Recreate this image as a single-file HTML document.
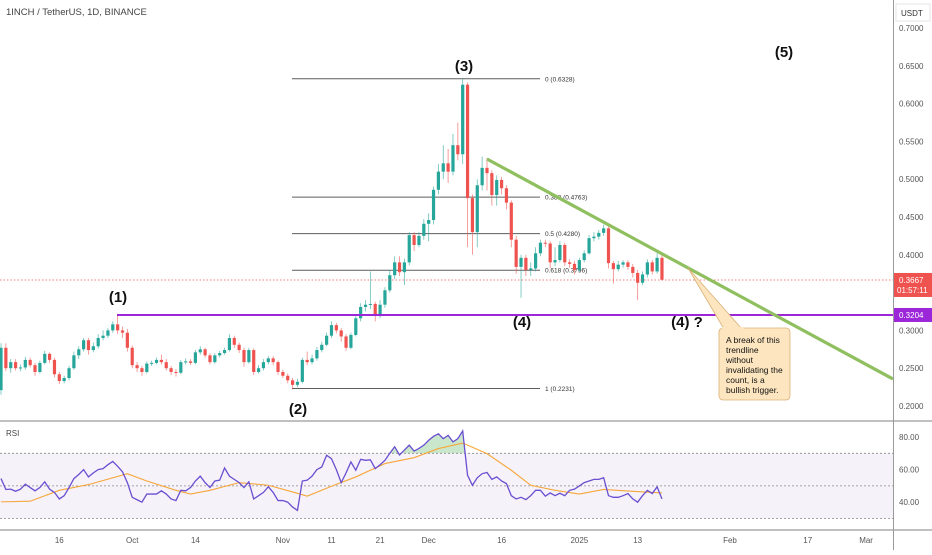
<!DOCTYPE html>
<html><head><meta charset="utf-8">
<style>
html,body{margin:0;padding:0;background:#fff;}
body{width:932px;height:550px;overflow:hidden;font-family:"Liberation Sans",sans-serif;}
svg text{font-family:"Liberation Sans",sans-serif;}
</style></head>
<body>
<svg id="chart" width="932" height="550" viewBox="0 0 932 550" xmlns="http://www.w3.org/2000/svg">
  <rect x="0" y="0" width="932" height="550" fill="#ffffff"/>
  <text x="6" y="15" font-size="9.5" fill="#444">1INCH / TetherUS, 1D, BINANCE</text>
  <g id="fib"></g>
  <g id="candles"></g>
  <g id="overlay"></g>
  <g id="rsi"></g>
  <g id="axes"></g>
</svg>
<script>
const closes=[.277,.250,.258,.250,.251,.261,.254,.245,.257,.269,.261,.242,.233,.237,.250,.267,.275,.287,.274,.279,.290,.293,.300,.308,.300,.297,.277,.254,.250,.245,.256,.257,.261,.258,.250,.245,.244,.258,.259,.257,.271,.275,.267,.258,.267,.270,.274,.290,.281,.274,.258,.274,.245,.250,.258,.263,.258,.245,.240,.234,.228,.232,.261,.258,.263,.274,.281,.293,.307,.300,.292,.277,.294,.316,.331,.334,.335,.319,.334,.353,.373,.390,.377,.390,.426,.413,.425,.441,.446,.486,.510,.521,.510,.545,.533,.625,.475,.430,.492,.515,.508,.479,.499,.488,.469,.420,.384,.396,.380,.382,.402,.416,.415,.390,.393,.413,.390,.388,.380,.393,.402,.422,.424,.429,.435,.389,.381,.387,.390,.384,.376,.363,.374,.390,.378,.396,.367];
const firstOpen=.221;
const highs=[.283,.283,.262,.262,.255,.265,.264,.257,.260,.273,.271,.264,.245,.240,.253,.272,.279,.290,.290,.284,.295,.300,.303,.312,.322,.305,.302,.280,.258,.253,.259,.260,.264,.268,.262,.253,.249,.261,.263,.262,.274,.279,.277,.270,.270,.273,.277,.295,.293,.284,.277,.277,.276,.254,.262,.266,.266,.260,.248,.243,.237,.236,.264,.272,.268,.278,.285,.297,.312,.310,.303,.295,.297,.320,.336,.340,.378,.338,.340,.357,.380,.398,.398,.395,.430,.430,.430,.447,.455,.490,.520,.545,.540,.560,.575,.6328,.628,.480,.500,.530,.528,.512,.505,.503,.492,.472,.425,.400,.400,.390,.410,.420,.420,.418,.410,.418,.416,.394,.392,.396,.406,.426,.430,.433,.440,.438,.392,.392,.393,.393,.388,.380,.378,.394,.393,.402,.400];
const lows=[.215,.246,.244,.247,.246,.248,.251,.240,.243,.255,.257,.238,.229,.230,.234,.248,.262,.272,.268,.271,.276,.287,.290,.297,.295,.290,.272,.250,.245,.240,.243,.253,.255,.255,.247,.241,.239,.242,.255,.254,.255,.268,.264,.255,.256,.264,.268,.272,.277,.270,.252,.256,.241,.243,.247,.255,.254,.241,.237,.230,.222,.225,.230,.254,.255,.260,.271,.279,.290,.296,.285,.273,.275,.292,.312,.325,.328,.312,.316,.330,.350,.368,.372,.360,.386,.405,.410,.420,.418,.440,.480,.500,.495,.505,.525,.520,.410,.400,.410,.485,.485,.465,.465,.480,.460,.410,.375,.343,.372,.372,.378,.398,.410,.382,.385,.390,.385,.383,.374,.377,.390,.400,.418,.420,.425,.382,.362,.378,.383,.380,.370,.340,.360,.370,.374,.375,.366];
const rsiValues=[54.5,47.8,48,46.7,48,51,49,47,49,52.5,48,46,42,44,49,54.5,57,60,55.5,58,60,60.6,63,65,62,58.6,52,43,41.5,40,45,45,45,47,45,42,41,47.3,47,49,53,56,52,49,53,53.5,61,56,54,52,49,52.5,42,44,46,49.5,46,41,41,40,37,35,53,53.5,56,60,61.6,68.8,66.7,60,52,58,64.7,59.6,66.3,65.7,66,60.6,63,65.7,70,74,69,72,75,71.4,73,75,78,80.4,82,79,81,77,79,83.7,56.5,50.4,55,57.5,58.2,54,55.5,53,51.4,44,42,43,41.6,44,47.3,47.3,43.7,45.7,44,45.5,44,47.3,48,50,52,53,54,54,55,44,43,43,44,45.3,42,40,44,47.3,45.3,49.4,42];
const maDays=[0,6,12,18,26,30,36,39,43,49,55,60,63,68,73,79,85,90,95,100,105,109,114,119,124,130,136];
const maValues=[40.2,40.6,47.3,50.8,57.5,53,47.3,45,47.3,52,50.4,46.3,43.7,49.8,55.5,63.7,67.3,72.9,76.3,69.8,59.6,50.4,47.3,45,47.8,46.7,45.7];
const priceTicks=[0.7,0.65,0.6,0.55,0.5,0.45,0.4,0.3,0.25,0.2];
const rsiTicks=[80,60,40];
const fibLevels=["0","0.382","0.5","0.618","1"];
const fibPrices=[0.6328,0.4763,0.4280,0.3796,0.2231];
const timeLabels=["16","Oct","14","Nov","11","21","Dec","16","2025","13","Feb","17","Mar"];
const timeDays=[12,27,40,58,68,78,88,103,119,131,150,166,178];
const lastPrice=0.3667, levelPrice=0.3204;

const NS="http://www.w3.org/2000/svg";
function X(i){return 1+i*4.86;}
function Y(p){return 28+(0.7-p)*756;}
function RY(v){return 437+(80-v)*1.63;}
function mk(tag,attrs,parent,txt){const e=document.createElementNS(NS,tag);for(const k in attrs)e.setAttribute(k,attrs[k]);if(txt!==undefined)e.textContent=txt;parent.appendChild(e);return e;}
const gC=document.getElementById('candles'),gO=document.getElementById('overlay'),gR=document.getElementById('rsi'),gA=document.getElementById('axes'),gF=document.getElementById('fib');

// fib
for(let k=0;k<fibPrices.length;k++){
  const y=Y(fibPrices[k]);
  const l=mk('line',{x1:292,x2:540,y1:y,y2:y,stroke:'#5d5d5d','stroke-width':1},gF);
  
  
  const t=mk('text',{x:545,y:y+2.5,'font-size':6.5,fill:'#333'},gF,fibLevels[k]+' ('+fibPrices[k].toFixed(4)+')');
  
  
}
// current price dotted line
const cp=mk('line',{x1:0,x2:893,y1:Y(lastPrice),y2:Y(lastPrice),stroke:'#ef5350','stroke-width':0.8,'stroke-dasharray':'1.5 2'},gO);



// candles
for(let i=0;i<closes.length;i++){
  const o=i===0?firstOpen:closes[i-1],c=closes[i];
  const col=c>=o?'#26a69a':'#ef5350';
  const x=X(i);
  const w=mk('line',{x1:x,x2:x,y1:Y(highs[i]),y2:Y(lows[i]),stroke:col,'stroke-width':0.8,opacity:0.7},gC);
  
  
  const top=Y(Math.max(o,c)),bot=Y(Math.min(o,c));
  const b=mk('rect',{x:x-1.6,y:top,width:3.2,height:Math.max(1,bot-top),fill:col},gC);
  
  
}
// purple level
const pl=mk('line',{x1:117,x2:893,y1:Y(levelPrice),y2:Y(levelPrice),stroke:'#9c27d8','stroke-width':2},gO);


// trendline
const tl=mk('line',{x1:487,y1:159,x2:893,y2:379,stroke:'#8fbf5f','stroke-width':3.2},gO);


// callout
const cpath=mk('path',{d:'M724 329 L688 268 L742 329 Z',fill:'#fde6bf',stroke:'#d9b177','stroke-width':0.8},gO);


const cbox=mk('rect',{x:719,y:328,width:71,height:72,rx:4,fill:'#fde6bf',stroke:'#d9b177','stroke-width':0.8},gO);


mk('rect',{x:722,y:327,width:22,height:3,fill:'#fde6bf'},gO);
const lines=["A break of this","trendline","without","invalidating the","count, is a","bullish trigger."];
lines.forEach((s,k)=>{const t=mk('text',{x:726,y:343+k*10,'font-size':8.5,fill:'#111'},gO,s);

});
// wave labels
const wl=[["(1)",118,302],["(2)",298,414],["(3)",464,71],["(4)",522,327],["(4) ?",687,327],["(5)",784,57]];
wl.forEach(a=>{const t=mk('text',{x:a[1],y:a[2],'font-size':15,'font-weight':'bold','text-anchor':'middle',fill:'#111'},gO,a[0]);

});

// RSI pane
const band=mk('rect',{x:0,y:RY(70),width:893,height:RY(30)-RY(70),fill:'#7e57c2','fill-opacity':0.08},gR);


[70,50,30].forEach(v=>{const l=mk('line',{x1:0,x2:893,y1:RY(v),y2:RY(v),stroke:'#8a8a8a','stroke-width':0.8,'stroke-dasharray':'2 2'},gR);

});
// overbought fill
let pts=[];for(let i=0;i<rsiValues.length;i++)pts.push(X(i)+','+RY(rsiValues[i]));
const clip=mk('clipPath',{id:'ob'},gR);mk('rect',{x:0,y:420,width:893,height:RY(70)-420},clip);
const ob=mk('polygon',{points:X(0)+','+RY(70)+' '+pts.join(' ')+' '+X(rsiValues.length-1)+','+RY(70),fill:'#66bb6a','fill-opacity':0.35,'clip-path':'url(#ob)'},gR);


let mp=[];for(let k=0;k<maDays.length;k++)mp.push(X(maDays[k])+','+RY(maValues[k]));
const ma=mk('polyline',{points:mp.join(' '),fill:'none',stroke:'#f7a63a','stroke-width':1.1},gR);


const rl=mk('polyline',{points:pts.join(' '),fill:'none',stroke:'#6a4fd0','stroke-width':1.3},gR);


const rt=mk('text',{x:6,y:436,'font-size':8,fill:'#444'},gR,'RSI');



// axes
const a1=mk('line',{x1:893.5,x2:893.5,y1:0,y2:550,stroke:'#9a9a9a','stroke-width':1},gA);


const a2=mk('line',{x1:0,x2:932,y1:421,y2:421,stroke:'#9a9a9a','stroke-width':1.2},gA);


const a3=mk('line',{x1:0,x2:932,y1:530,y2:530,stroke:'#9a9a9a','stroke-width':1.2},gA);


const ub=mk('rect',{x:896,y:4,width:34,height:17,fill:'#fff',stroke:'#e5e5e5'},gA);


const ut=mk('text',{x:901,y:16,'font-size':8,fill:'#333'},gA,'USDT');


priceTicks.forEach(p=>{const t=mk('text',{x:899,y:Y(p)+3,'font-size':8,fill:'#555'},gA,p.toFixed(4));

});
rsiTicks.forEach(v=>{const t=mk('text',{x:899,y:RY(v)+3,'font-size':8,fill:'#555'},gA,v.toFixed(2));

});
timeLabels.forEach((s,k)=>{const t=mk('text',{x:X(timeDays[k]),y:543,'font-size':8,fill:'#555','text-anchor':'middle'},gA,s);

});
// price badges
const rb=mk('rect',{x:894,y:Y(lastPrice)-7,width:38,height:24,fill:'#ef5350'},gA);


const r1=mk('text',{x:899,y:Y(lastPrice)+3,'font-size':8,fill:'#fff'},gA,lastPrice.toFixed(4));


const r2=mk('text',{x:897,y:Y(lastPrice)+13,'font-size':8,fill:'#fff'},gA,'01:57:11');


const pb=mk('rect',{x:894,y:Y(levelPrice)-7,width:38,height:14,fill:'#9c27d8'},gA);


const pt=mk('text',{x:899,y:Y(levelPrice)+3,'font-size':8,fill:'#fff'},gA,levelPrice.toFixed(4));


</script>
</body></html>
